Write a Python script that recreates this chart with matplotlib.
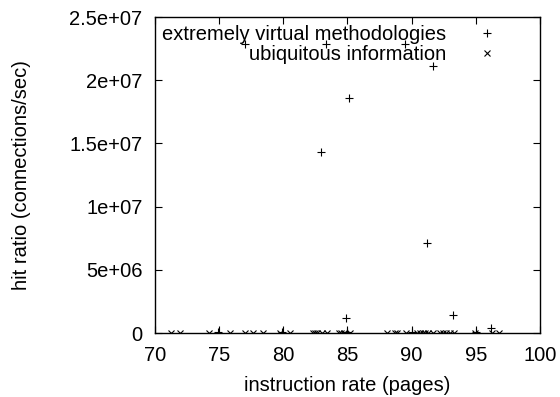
import numpy as np
import matplotlib
matplotlib.use('Agg')
from matplotlib import pyplot as plt

plt.rcParams['font.family'] = ['Liberation Sans', 'DejaVu Sans']

# extremely virtual methodologies (+)
virt_x = [74.9, 77.0, 79.9, 82.9, 83.3, 85.0, 84.9, 85.1, 89.5, 90.0, 91.2, 91.7, 93.25, 95.0, 96.2]
virt_y = [0.05e6, 22.86e6, 0.05e6, 14.3e6, 22.86e6, 0.05e6, 1.19e6, 18.6e6, 22.86e6, 0.05e6, 7.1e6, 21.1e6, 1.42e6, 0.05e6, 0.37e6]

# ubiquitous information (x)
ubiq_x = [71.2, 71.95, 74.2, 75.85, 77.0, 77.6, 78.4, 79.7, 80.5, 82.3, 82.5, 82.65, 83.0, 83.4,
          84.3, 84.5, 84.7, 85.2, 88.05, 88.7, 88.9, 89.55, 90.45, 90.65, 90.85, 91.05, 91.3,
          91.65, 92.2, 92.45, 92.7, 93.0, 93.3, 94.95, 96.25, 96.8]
ubiq_y = [0] * len(ubiq_x)

fs = 14.5

fig = plt.figure(figsize=(5.6, 3.97), dpi=100)
ax = fig.add_axes([0.277, 0.161, 0.687, 0.796])

ax.plot(virt_x, virt_y, '+', color='black', ms=6, mew=0.8, label='extremely virtual methodologies')
ax.plot(ubiq_x, ubiq_y, 'x', color='black', ms=4, mew=0.8, label='ubiquitous information')

ax.set_xlim(70, 100)
ax.set_ylim(0, 2.5e7)
ax.set_xticks([70, 75, 80, 85, 90, 95, 100])
yt = [0, 5e6, 1e7, 1.5e7, 2e7, 2.5e7]
ax.set_yticks(yt)
ax.set_yticklabels(['0', '5e+06', '1e+07', '1.5e+07', '2e+07', '2.5e+07'])
ax.tick_params(direction='in', top=True, right=True, labelsize=fs, length=5, width=0.8, pad=9)
for s in ax.spines.values():
    s.set_linewidth(1.0)

ax.set_xlabel('instruction rate (pages)', fontsize=fs, labelpad=8)
ax.set_ylabel('hit ratio (connections/sec)', fontsize=fs, labelpad=28)

ax.legend(loc='upper right', bbox_to_anchor=(0.914, 0.975), markerfirst=False, frameon=False,
          fontsize=fs, handlelength=2.0, handletextpad=1.0, labelspacing=0.05,
          borderpad=0, borderaxespad=0)

fig.savefig('out.png', dpi=100)
